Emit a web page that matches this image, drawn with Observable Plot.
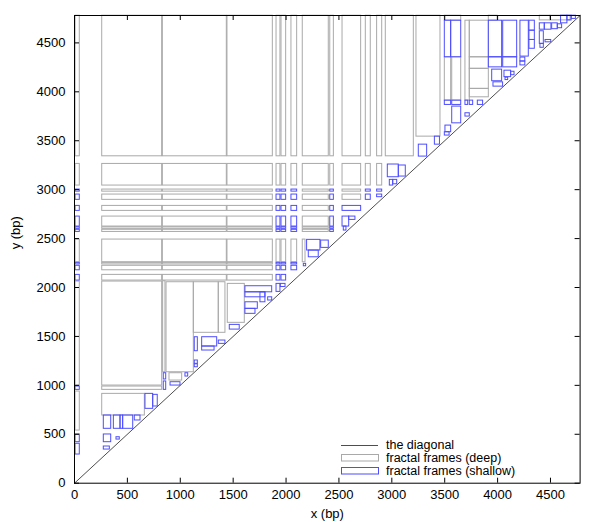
<!DOCTYPE html>
<html><head><meta charset="utf-8">
<script src="https://cdn.jsdelivr.net/npm/d3@7"></script>
<script src="https://cdn.jsdelivr.net/npm/@observablehq/plot@0.6"></script>
<style>body{margin:0;background:#fff;} #chart{width:600px;height:522px;}</style>
</head><body><div id="chart"></div>
<script>
// ---- data (bp) ----
const xTicks = [0, 500, 1000, 1500, 2000, 2500, 3000, 3500, 4000, 4500];
const yTicks = [0, 500, 1000, 1500, 2000, 2500, 3000, 3500, 4000, 4500];
const seqLength = 4780;

// sequence segments used as frame columns (x) and rows (y)
const colSegs = {A:[10,50], B:[262,829], C:[835,1440], D:[1446,1875], E:[1910,1947], F:[1957,2001],
  G:[2051,2105], H:[2158,2404], I:[2418,2452], J:[2534,2710], K:[2754,2801], L:[2861,2909], M:[2943,3208]};
const rowSegs = {r1:[3341,4778], r2:[3042,3263], r3:[2980,3001], r4:[2896,2950], r5:[2783,2834],
  r6:[2623,2725], r7:[2600,2616], r8:[2568,2590], r9:[2258,2490], r10:[2236,2252], r11:[2176,2222], r12:[2071,2129]};

const allRows = ["r1","r2","r3","r4","r5","r6","r7","r8","r9","r10","r11","r12"];
const deepCells = {
  A:["r1","r2","r9"], B:allRows, C:allRows, D:allRows,
  E:["r1","r2","r9"], F:["r1","r2","r9"], G:["r1","r2","r9"],
  H:["r1","r2","r3","r4","r5","r6","r7","r8"], I:["r1","r2"], J:["r1","r2","r3","r4"],
  K:["r1","r2"], L:["r1","r2"], M:["r1"]
};
const shallowCells = {
  A:["r3","r4","r5","r6","r7","r8","r10","r11","r12"],
  E:["r3","r4","r5","r6","r7","r8","r10","r11","r12"],
  F:["r3","r4","r5","r6","r7","r8","r10","r11","r12"],
  G:["r3","r4","r5","r6","r7","r8","r10","r11"],
  I:["r3","r4","r5","r6","r7","r8"], J:["r5"], K:["r3","r4"], L:["r3"]
};

// other frames [x1, x2, y1, y2]
const deepFrames = [
  [10,50,998,2061],[10,50,538,937],
  [262,829,998,2061],[262,829,954,988],[262,665,692,913],
  [838,860,1134,2064],[870,1128,1134,2054],[1128,1364,1537,2054],[1364,1427,1537,2054],
  [1449,1610,1639,2037],[898,1018,1049,1124],[2158,2184,2258,2490],
  [3233,3460,3542,4778],[3501,3561,3910,4353],[3571,3656,3910,4353],[3696,3737,3910,4727],
  [3737,3917,4353,4727],[3737,3917,4235,4353],[3737,3917,4030,4235],[3737,3917,3944,4030],
  [3501,3656,4727,4778],[3917,4000,4727,4778],[4399,4500,4730,4778],[4500,4690,4730,4778]
];
const shallowFrames = [
  [10,50,954,988],[10,50,419,498],[10,50,293,403],
  [277,347,556,692],[372,435,556,692],[435,460,556,692],[460,555,556,692],[570,624,641,692],
  [277,347,419,498],[397,428,446,470],[277,334,344,375],
  [671,744,760,913],[744,787,784,903],
  [844,867,1060,1124],[844,867,954,1040],[908,1002,998,1032],[1049,1075,1090,1124],
  [1137,1166,1349,1492],[1137,1166,1185,1215],[1137,1166,1220,1254],
  [1207,1349,1397,1492],[1207,1324,1356,1397],[1364,1427,1424,1458],
  [1468,1562,1570,1618],
  [1616,1869,1951,2013],[1616,1805,1900,1951],[1758,1805,1849,1951],[1616,1733,1782,1849],
  [1616,1711,1731,1782],[1831,1869,1867,1900],
  [1910,1947,1955,2037],[1950,1995,2005,2037],
  [2168,2190,2217,2242],[2199,2325,2378,2487],[2332,2404,2405,2480],[2215,2309,2309,2378],
  [2534,2597,2623,2725],[2597,2656,2691,2725],[2546,2571,2582,2623],
  [2861,2909,2923,2950],
  [2981,3013,3042,3100],[3013,3051,3055,3100],[2962,3066,3127,3257],[3066,3132,3134,3247],
  [3255,3334,3338,3460],[3407,3455,3460,3542],
  [3501,3561,4353,4727],[3561,3656,4353,4727],[3501,3561,3866,3910],[3571,3656,3866,3910],
  [3571,3656,3678,3849],[3507,3561,3587,3655],[3501,3546,3553,3587],
  [3696,3722,3866,3910],[3737,3769,3866,3910],[3813,3863,3866,3910],[3696,3737,3747,3781],
  [3917,4043,4353,4727],[4053,4185,4353,4727],[3917,4043,4250,4353],[4053,4185,4250,4353],
  [3949,4043,4108,4227],[3961,4052,4053,4097],
  [4065,4128,4150,4216],[4128,4160,4170,4205],[4075,4100,4120,4145],
  [4216,4295,4360,4727],[4216,4262,4310,4350],[4216,4262,4270,4310],
  [4301,4352,4625,4727],[4301,4352,4530,4625],[4301,4352,4440,4530],
  [4399,4446,4635,4700],[4446,4509,4635,4700],[4516,4569,4640,4700],[4569,4610,4650,4690],
  [4399,4437,4490,4619],[4405,4437,4450,4490],[4453,4507,4506,4530],
  [4600,4660,4700,4778],[4660,4700,4730,4778],[4700,4740,4745,4778]
];

// ---- build tables ----
const toRec = f => ({x1:f[0], x2:f[1], y1:f[2], y2:f[3]});
const fromCells = cells => Object.entries(cells).flatMap(([c, rs]) =>
  rs.map(r => ({x1:colSegs[c][0], x2:colSegs[c][1], y1:rowSegs[r][0], y2:rowSegs[r][1]})));
const deep = fromCells(deepCells).concat(deepFrames.map(toRec));
const shallow = fromCells(shallowCells).concat(shallowFrames.map(toRec));
const diagonal = [0, seqLength];

const W = 600, H = 522, mL = 74, mR = 20.4, mT = 15, mB = 39.3;
const innerW = W - mL - mR, innerH = H - mT - mB;
const grayC = "#a9a9a9", blueC = "#4d4dff", diagC = "#3a3a3a";
const FONT = "'Liberation Sans', Arial, sans-serif";

const chart = Plot.plot({
  width: W, height: H,
  marginLeft: mL, marginRight: mR, marginTop: mT, marginBottom: mB,
  x: {domain: [0, seqLength], axis: null},
  y: {domain: [0, seqLength], axis: null},
  style: {fontFamily: FONT, fontSize: "13px", background: "white", color: "black"},
  marks: [
    Plot.rect(deep, {x1:"x1", x2:"x2", y1:"y1", y2:"y2", stroke: grayC, fill: "none", strokeWidth: 1}),
    Plot.rect(shallow, {x1:"x1", x2:"x2", y1:"y1", y2:"y2", stroke: blueC, fill: "none", strokeWidth: 1}),
    Plot.line(diagonal, {x: d => d, y: d => d, stroke: diagC, strokeWidth: 0.9}),
    Plot.frame({stroke: "black", strokeWidth: 1}),
    Plot.tickX(xTicks, {x: d => d, insetTop: innerH - 5, stroke: "black"}),
    Plot.tickX(xTicks, {x: d => d, insetBottom: innerH - 5, stroke: "black"}),
    Plot.tickY(yTicks, {y: d => d, insetRight: innerW - 5, stroke: "black"}),
    Plot.tickY(yTicks, {y: d => d, insetLeft: innerW - 5, stroke: "black"}),
    Plot.axisX(xTicks, {tickSize: 0, tickPadding: 7, label: null, fill: "black", fontSize: 13, tickFormat: d => String(d)}),
    Plot.axisY(yTicks, {tickSize: 0, tickPadding: 9, label: null, fill: "black", fontSize: 13, tickFormat: d => String(d)}),
    Plot.text(["x (bp)"], {frameAnchor: "bottom", dy: 34.5, fill: "black", fontSize: 13}),
    Plot.text(["y (bp)"], {frameAnchor: "left", dx: -59, rotate: -90, fill: "black", fontSize: 13})
  ]
});
document.getElementById("chart").appendChild(chart);

// legend inside the plot, bottom right
const svg = d3.select(chart);
const lg = svg.append("g");
const items = [
  {label: "the diagonal", kind: "line", stroke: diagC},
  {label: "fractal frames (deep)", kind: "rect", stroke: grayC},
  {label: "fractal frames (shallow)", kind: "rect", stroke: blueC}
];
items.forEach((it, i) => {
  const cy = 445 + i * 13;
  if (it.kind === "line") {
    lg.append("line").attr("x1", 341).attr("x2", 378).attr("y1", cy + 0.5).attr("y2", cy + 0.5)
      .attr("stroke", it.stroke).attr("stroke-width", 0.9);
  } else {
    lg.append("rect").attr("x", 341.5).attr("y", cy - 3.5).attr("width", 37).attr("height", 6.5)
      .attr("fill", "none").attr("stroke", it.stroke);
  }
  lg.append("text").attr("x", 386).attr("y", cy).attr("dy", "0.35em")
    .attr("style", `font-family:${FONT};font-size:12.5px;text-anchor:start;fill:black`)
    .text(it.label);
});
</script>
</body></html>
